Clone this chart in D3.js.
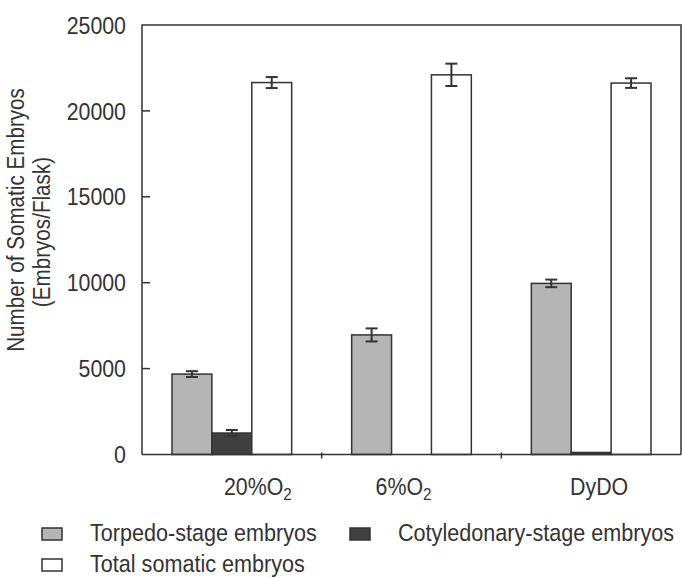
<!DOCTYPE html>
<html>
<head>
<meta charset="utf-8">
<script src="https://cdn.jsdelivr.net/npm/d3@7"></script>
<style>
  html, body { margin: 0; padding: 0; background: #fff; }
  svg text { font-family: "Liberation Sans", Arial, sans-serif; fill: #333; }
</style>
</head>
<body>
<div id="chart"></div>
<script>
// Data
const categories = ['20%O2', '6%O2', 'DyDO'];
const seriesKeys = ['torpedo', 'cotyledonary', 'total'];
const seriesLabels = ['Torpedo-stage embryos', 'Cotyledonary-stage embryos', 'Total somatic embryos'];

const torpedo = [4680, 6960, 9960];
const torpedoErr = [170, 380, 220];
const cotyledonary = [1250, 0, 120];
const cotyledonaryErr = [175, 0, 0];
const total = [21650, 22100, 21620];
const totalErr = [320, 650, 280];

const yTicks = [0, 5000, 10000, 15000, 20000, 25000];

// Config
const width = 682, height = 578;
const margin = { top: 25, right: 1, bottom: 123.5, left: 142 };
const colors = { torpedo: '#b5b5b5', cotyledonary: '#404040', total: '#ffffff' };
const stroke = '#333';
const labelDx = [26, -8, 8];
const narrow = 0.89;   // the original font is condensed

const innerW = width - margin.left - margin.right;
const innerH = height - margin.top - margin.bottom;

const table = categories.map((c, i) => ({
  category: c,
  values: [
    { key: 'torpedo', value: torpedo[i], err: torpedoErr[i] },
    { key: 'cotyledonary', value: cotyledonary[i], err: cotyledonaryErr[i] },
    { key: 'total', value: total[i], err: totalErr[i] }
  ]
}));

const svg = d3.select('#chart').append('svg')
  .attr('width', width)
  .attr('height', height);

const g = svg.append('g')
  .attr('transform', `translate(${margin.left},${margin.top})`);

const x0 = d3.scaleBand().domain(categories).range([0, innerW]);
const x1 = d3.scaleBand().domain(seriesKeys).range([30, x0.bandwidth() - 30]);
const y = d3.scaleLinear().domain([0, 25000]).range([innerH, 0]);

// Frame: left axis, top and right border
g.append('path')
  .attr('d', `M0,${innerH}V0H${innerW}V${innerH}`)
  .attr('fill', 'none')
  .attr('stroke', stroke)
  .attr('stroke-width', 1.5);

// Y axis ticks (inward) and labels
const yAxis = g.append('g').attr('class', 'y-axis');
yAxis.selectAll('line')
  .data(yTicks.slice(1, -1))
  .join('line')
  .attr('x1', 0)
  .attr('x2', 8)
  .attr('y1', d => y(d))
  .attr('y2', d => y(d))
  .attr('stroke', stroke)
  .attr('stroke-width', 1.5);

yAxis.selectAll('text')
  .data(yTicks)
  .join('text')
  .attr('transform', d => `translate(-16,${y(d)}) scale(${narrow},1)`)
  .attr('dy', '0.36em')
  .attr('text-anchor', 'end')
  .attr('font-size', '24px')
  .text(d => d);

// Bars
const groups = g.selectAll('g.group')
  .data(table)
  .join('g')
  .attr('class', 'group')
  .attr('transform', d => `translate(${x0(d.category)},0)`);

groups.selectAll('rect.bar')
  .data(d => d.values)
  .join('rect')
  .attr('class', 'bar')
  .attr('x', d => x1(d.key))
  .attr('y', d => y(d.value))
  .attr('width', x1.bandwidth())
  .attr('height', d => innerH - y(d.value))
  .attr('fill', d => colors[d.key])
  .attr('stroke', stroke)
  .attr('stroke-width', 1.5);

// Error bars
const errs = groups.selectAll('g.err')
  .data(d => d.values.filter(v => v.err > 0))
  .join('g')
  .attr('class', 'err')
  .attr('stroke', stroke)
  .attr('stroke-width', 2);

errs.append('line')
  .attr('x1', d => x1(d.key) + x1.bandwidth() / 2)
  .attr('x2', d => x1(d.key) + x1.bandwidth() / 2)
  .attr('y1', d => y(d.value + d.err))
  .attr('y2', d => y(d.value - d.err));

[1, -1].forEach(sign => {
  errs.append('line')
    .attr('x1', d => x1(d.key) + x1.bandwidth() / 2 - 6)
    .attr('x2', d => x1(d.key) + x1.bandwidth() / 2 + 6)
    .attr('y1', d => y(d.value + sign * d.err))
    .attr('y2', d => y(d.value + sign * d.err));
});

// Baseline and x ticks at band boundaries
g.append('line')
  .attr('x1', 0)
  .attr('x2', innerW)
  .attr('y1', innerH)
  .attr('y2', innerH)
  .attr('stroke', stroke)
  .attr('stroke-width', 1.5);

g.selectAll('line.xtick')
  .data(categories.slice(1))
  .join('line')
  .attr('class', 'xtick')
  .attr('x1', d => x0(d))
  .attr('x2', d => x0(d))
  .attr('y1', innerH - 2)
  .attr('y2', innerH + 4)
  .attr('stroke', stroke)
  .attr('stroke-width', 1.5);

// Category labels with subscript 2
const catLabels = g.selectAll('text.cat')
  .data(categories)
  .join('text')
  .attr('class', 'cat')
  .attr('transform', (d, i) => `translate(${x0(d) + x0.bandwidth() / 2 + labelDx[i]},${innerH + 40}) scale(${narrow},1)`)
  .attr('text-anchor', 'middle')
  .attr('font-size', '24px');

catLabels.each(function(d) {
  const t = d3.select(this);
  const m = d.match(/^(.*O)2$/);
  if (m) {
    t.append('tspan').text(m[1]);
    t.append('tspan').attr('font-size', '17px').attr('dy', 5).text('2');
  } else {
    t.text(d);
  }
});

// Y axis title (two lines)
const yTitle = svg.append('text')
  .attr('transform', `translate(24,${margin.top + 195}) rotate(-90) scale(0.86,1)`)
  .attr('text-anchor', 'middle')
  .attr('font-size', '24px');
yTitle.append('tspan').attr('x', 0).attr('dy', 0).text('Number of Somatic Embryos');
yTitle.append('tspan').attr('x', -14).attr('dy', 26).text('(Embryos/Flask)');

// Legend
const legendItems = [
  { key: 'torpedo', label: seriesLabels[0], x: 42, y: 528 },
  { key: 'cotyledonary', label: seriesLabels[1], x: 350, y: 528 },
  { key: 'total', label: seriesLabels[2], x: 42, y: 559 }
];

const legend = svg.append('g').attr('class', 'legend');
const items = legend.selectAll('g')
  .data(legendItems)
  .join('g')
  .attr('transform', d => `translate(${d.x},${d.y})`);

items.append('rect')
  .attr('width', 20)
  .attr('height', 12)
  .attr('fill', d => colors[d.key])
  .attr('stroke', stroke)
  .attr('stroke-width', 1.5);

items.append('text')
  .attr('transform', 'translate(48,13) scale(0.9,1)')
  .attr('font-size', '24px')
  .text(d => d.label);
</script>
</body>
</html>
